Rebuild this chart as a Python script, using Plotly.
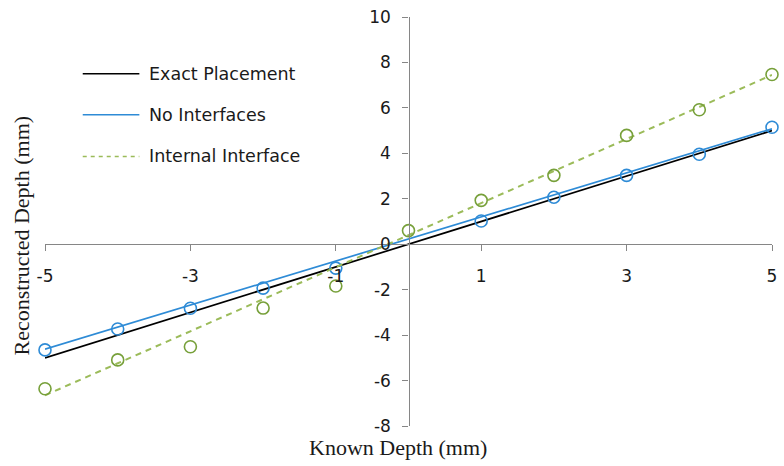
import plotly.graph_objects as go

# ---- data ----
known_x = [-5, -4, -3, -2, -1, 0, 1, 2, 3, 4, 5]
no_iface_x = [-5, -4, -3, -2, -1, 1, 2, 3, 4, 5]
no_iface_y = [-4.65, -3.73, -2.82, -1.93, -1.05, 1.02, 2.07, 3.03, 3.96, 5.15]
internal_y = [-6.36, -5.09, -4.51, -2.81, -1.84, 0.6, 1.93, 3.03, 4.79, 5.92, 7.47]

exact_x = [-5, 5]
exact_y = [-5, 5]
fit_x = [-5, 5]
no_iface_fit = [-4.62, 5.08]
internal_fit = [-6.65, 7.45]

x_ticks = [-5, -3, -1, 1, 3, 5]
x_tick_text = ["-5", "-3", "-1", "1", "3", "5"]
y_ticks = [-8, -6, -4, -2, 0, 2, 4, 6, 8, 10]
y_tick_text = ["-8", "-6", "-4", "-2", "0", "2", "4", "6", "8", "10"]

series_names = ["Exact Placement", "No Interfaces", "Internal Interface"]
line_colors = ["#000000", "#2E8BD6", "#9BBB59"]
marker_colors = ["#000000", "#2E8BD6", "#77A03A"]

fig = go.Figure()

# Exact placement
fig.add_trace(go.Scatter(x=exact_x, y=exact_y, mode="lines",
                         line=dict(color=line_colors[0], width=1.7),
                         name=series_names[0], showlegend=False))
# No interfaces: trend line + markers
fig.add_trace(go.Scatter(x=fit_x, y=no_iface_fit, mode="lines",
                         line=dict(color=line_colors[1], width=1.7),
                         showlegend=False))
fig.add_trace(go.Scatter(x=no_iface_x, y=no_iface_y, mode="markers",
                         marker=dict(symbol="circle-open", size=12,
                                     color=marker_colors[1],
                                     line=dict(width=1.6)),
                         cliponaxis=False, showlegend=False))
# Internal interface: dashed trend line + markers
fig.add_trace(go.Scatter(x=fit_x, y=internal_fit, mode="lines",
                         line=dict(color=line_colors[2], width=2, dash="6px,5px"),
                         showlegend=False))
fig.add_trace(go.Scatter(x=known_x, y=internal_y, mode="markers",
                         marker=dict(symbol="circle-open", size=12,
                                     color=marker_colors[2],
                                     line=dict(width=1.6)),
                         cliponaxis=False, showlegend=False))

axis_color = "#868686"
tick_font = dict(family="DejaVu Sans", size=17, color="#1a1a1a")

fig.update_layout(
    width=784, height=466,
    margin=dict(l=45, r=7, t=16, b=40),
    paper_bgcolor="white", plot_bgcolor="white",
    xaxis=dict(range=[-5, 5], tickvals=x_ticks, ticktext=x_tick_text,
               ticks="outside", ticklen=6,
               tickcolor=axis_color, tickwidth=1.3,
               showline=True, linecolor=axis_color, linewidth=1.3,
               showgrid=False, zeroline=False, anchor="free", position=8 / 18,
               tickfont=tick_font, ticklabelstandoff=10),
    yaxis=dict(range=[-8, 10], tickvals=y_ticks, ticktext=y_tick_text,
               ticks="outside", ticklen=6,
               tickcolor=axis_color, tickwidth=1.3,
               showline=True, linecolor=axis_color, linewidth=1.3,
               showgrid=False, zeroline=False, anchor="free", position=0.5,
               tickfont=tick_font, ticklabelstandoff=8),
)

title_font = dict(family="Liberation Serif", size=22, color="#1a1a1a")
fig.add_annotation(text="Known Depth (mm)", xref="paper", yref="paper",
                   x=0.485, y=-0.052, showarrow=False, font=title_font,
                   xanchor="center", yanchor="middle")
fig.add_annotation(text="Reconstructed Depth (mm)", xref="paper", yref="paper",
                   x=-0.033, y=0.466, showarrow=False, font=title_font,
                   textangle=-90, xanchor="center", yanchor="middle")

# legend drawn manually (long sample lines as in the reference)
legend_font = dict(family="DejaVu Sans", size=17.5, color="#1a1a1a")
leg_y = [0.861, 0.761, 0.659]
for i, name in enumerate(series_names):
    fig.add_shape(type="line", xref="paper", yref="paper",
                  x0=0.0519, x1=0.1298, y0=leg_y[i], y1=leg_y[i],
                  line=dict(color=line_colors[i], width=1.5,
                            dash="4px,4px" if i == 2 else "solid"))
    fig.add_annotation(text=name, xref="paper", yref="paper",
                       x=0.1407, y=leg_y[i], showarrow=False, font=legend_font,
                       xanchor="left", yanchor="middle")

fig.write_html("out.html")
